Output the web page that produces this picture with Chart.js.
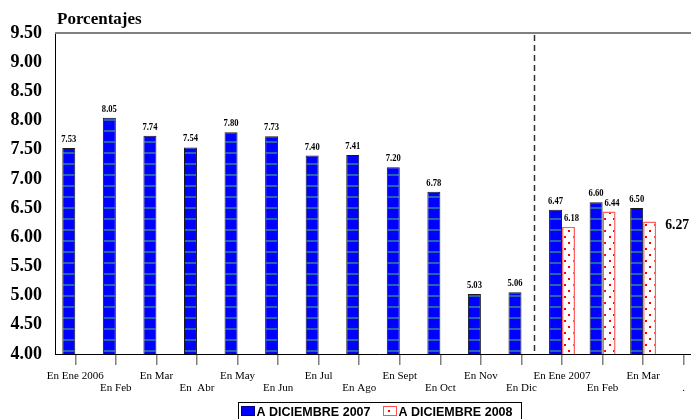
<!DOCTYPE html>
<html>
<head>
<meta charset="utf-8">
<script src="https://cdn.jsdelivr.net/npm/chart.js@4/dist/chart.umd.min.js"></script>
<style>
  html, body { margin: 0; padding: 0; background: #fff; overflow: hidden; }
  #wrap { width: 691px; height: 419px; overflow: hidden; }
</style>
</head>
<body>
<div id="wrap"><canvas id="c" width="704" height="419"></canvas></div>
<script>
const months = ['En Ene 2006', 'En Feb', 'En Mar', 'En  Abr', 'En May', 'En Jun', 'En Jul', 'En Ago',
    'En Sept', 'En Oct', 'En Nov', 'En Dic', 'En Ene 2007', 'En Feb', 'En Mar', '.'];
const dic2007 = [7.53, 8.05, 7.74, 7.54, 7.80, 7.73, 7.40, 7.41, 7.20, 6.78, 5.03, 5.06, 6.47, 6.60, 6.50, null];
const dic2008 = [null, null, null, null, null, null, null, null, null, null, null, null, 6.18, 6.44, 6.27, null];
const seriesNames = ['A DICIEMBRE 2007', 'A DICIEMBRE 2008'];
const yTicks = [4, 4.5, 5, 5.5, 6, 6.5, 7, 7.5, 8, 8.5, 9, 9.5];

// patterns for the two fills
function stripePattern() {
    const p = document.createElement('canvas');
    p.width = 8; p.height = 11;
    const g = p.getContext('2d');
    g.fillStyle = '#0000ff';
    g.fillRect(0, 0, 8, 11);
    g.fillStyle = '#2464b4';
    g.fillRect(0, 9, 8, 2);
    return g.createPattern(p, 'repeat');
}
function dotPattern() {
    const p = document.createElement('canvas');
    p.width = 9; p.height = 12;
    const g = p.getContext('2d');
    g.fillStyle = '#ffffff';
    g.fillRect(0, 0, 9, 12);
    g.fillStyle = '#ff0000';
    g.fillRect(1, 2, 2, 2);
    g.fillRect(6, 8, 2, 2);
    return g.createPattern(p, 'repeat');
}
const blueFill = stripePattern();
const redFill = dotPattern();

// two rows of month labels
const xLabels = months.map((m, i) => i % 2 === 0 ? [m, ''] : ['', m]);

const extras = {
    id: 'extras',
    afterDraw(chart) {
        const ctx = chart.ctx;
        const a = chart.chartArea;
        const x = chart.scales.x;
        ctx.save();

        // top border
        ctx.strokeStyle = '#808080';
        ctx.lineWidth = 2;
        ctx.beginPath();
        ctx.moveTo(a.left, a.top);
        ctx.lineTo(a.right, a.top);
        ctx.stroke();

        // title
        ctx.fillStyle = '#000';
        ctx.font = 'bold 17px "Liberation Serif"';
        ctx.textAlign = 'left';
        ctx.textBaseline = 'alphabetic';
        ctx.fillText('Porcentajes', a.left + 2, 24);

        // dashed separator between 2006 and 2007
        const step = x.getPixelForValue(12) - x.getPixelForValue(11);
        const sx = Math.round(x.getPixelForValue(11) + step * 0.3) + 0.5;
        ctx.strokeStyle = '#333';
        ctx.lineWidth = 1.5;
        ctx.setLineDash([6, 4]);
        ctx.beginPath();
        ctx.moveTo(sx, a.top + 2);
        ctx.lineTo(sx, a.bottom);
        ctx.stroke();
        ctx.setLineDash([]);

        // value labels
        ctx.fillStyle = '#000';
        chart.data.datasets.forEach((ds, di) => {
            chart.getDatasetMeta(di).data.forEach((bar, i) => {
                const v = ds.data[i];
                if (v === null) return;
                const t = v.toFixed(2);
                if (di === 1 && i === 14) {
                    ctx.font = 'bold 14px "Liberation Serif"';
                    ctx.textAlign = 'left';
                    ctx.fillText(t, bar.x + bar.width / 2 + 9, bar.y + 7, 24);
                    return;
                }
                ctx.font = 'bold 11px "Liberation Serif"';
                ctx.textAlign = 'center';
                ctx.fillText(t, bar.x + (di === 1 ? 3 : 0), bar.y - 6, 15);
            });
        });

        // legend
        const lw = 283;
        const lx = Math.round((a.left + a.right) / 2 - lw / 2) + 0.5;
        const ly = 402.5;
        ctx.strokeStyle = '#000';
        ctx.lineWidth = 1;
        ctx.strokeRect(lx, ly, lw, 30);
        const items = [
            { fill: blueFill, border: '#000080', off: 3 },
            { fill: redFill, border: '#ff5050', off: 145 }
        ];
        ctx.font = 'bold 13px "Liberation Sans"';
        ctx.textAlign = 'left';
        items.forEach((it, k) => {
            const bx = lx + it.off;
            ctx.fillStyle = it.fill;
            ctx.fillRect(bx, 406, 13, 9);
            ctx.strokeStyle = it.border;
            ctx.strokeRect(bx, 406.5, 13, 9);
            ctx.fillStyle = '#000';
            ctx.fillText(seriesNames[k], bx + 15, 416, 114);
        });
        ctx.restore();
    }
};

new Chart(document.getElementById('c'), {
    type: 'bar',
    data: {
        labels: xLabels,
        datasets: [
            {
                label: seriesNames[0],
                data: dic2007,
                backgroundColor: blueFill,
                borderColor: '#1a1a1a',
                borderWidth: 1
            },
            {
                label: seriesNames[1],
                data: dic2008,
                backgroundColor: redFill,
                borderColor: '#ff6060',
                borderWidth: 1.5
            }
        ]
    },
    options: {
        responsive: false,
        animation: false,
        categoryPercentage: 0.64,
        barPercentage: 1,
        layout: { padding: { top: 33, left: 0, right: 0, bottom: 0 } },
        plugins: {
            legend: { display: false },
            tooltip: { enabled: false }
        },
        scales: {
            x: {
                afterFit: s => { s.height = 65; },
                grid: {
                    offset: false,
                    drawOnChartArea: false,
                    tickLength: 11,
                    color: '#808080',
                    lineWidth: 1.5
                },
                border: { display: true, color: '#000', width: 1 },
                ticks: {
                    autoSkip: false,
                    maxRotation: 0,
                    padding: 5,
                    color: '#000',
                    font: { family: 'Liberation Serif', size: 11, lineHeight: 1.1 }
                }
            },
            y: {
                min: 4,
                max: 9.5,
                afterFit: s => { s.width = 55; },
                afterBuildTicks: s => { s.ticks = yTicks.map(v => ({ value: v })); },
                grid: { display: false },
                border: { display: true, color: '#000', width: 1 },
                ticks: {
                    padding: 5,
                    color: '#000',
                    font: { family: 'Liberation Serif', size: 18, weight: 'bold' },
                    callback: v => v.toFixed(2)
                }
            }
        }
    },
    plugins: [extras]
});
</script>
</body>
</html>
